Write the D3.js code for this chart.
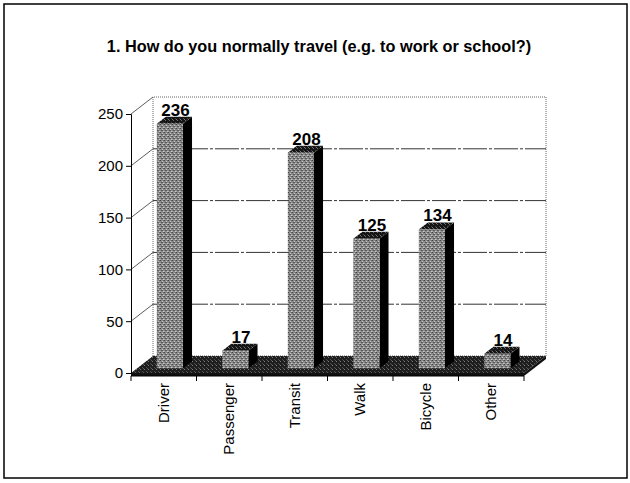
<!DOCTYPE html>
<html>
<head>
<meta charset="utf-8">
<script src="https://cdn.jsdelivr.net/npm/d3@7"></script>
<style>
  body { margin: 0; background: #fff; }
  text { font-family: Arial, "Liberation Sans", sans-serif; fill: #000; }
</style>
</head>
<body>
<div id="chart"></div>
<script>
// data
const categories = ["Driver", "Passenger", "Transit", "Walk", "Bicycle", "Other"];
const counts = [236, 17, 208, 125, 134, 14];
const yTicks = [0, 50, 100, 150, 200, 250];
const gridValues = [50, 100, 150, 200];
const title = "1. How do you normally travel (e.g. to work or school?)";

const width = 630, height = 483;
// front plane of the plot
const left = 131, right = 524, y0 = 373, yTop = 114;
// 3d depth offset of the whole plot (back wall)
const depthX = 22, depthY = -17;
// bars sit between these depth fractions
const f0 = 0.28, f1 = 0.69;

const svg = d3.select("#chart")
  .append("svg")
  .attr("width", width)
  .attr("height", height);

// textures for the scanned look
const defs = svg.append("defs");
function texture(id, base, dots) {
  const p = defs.append("pattern")
    .attr("id", id)
    .attr("patternUnits", "userSpaceOnUse")
    .attr("width", 4)
    .attr("height", 4);
  p.append("rect").attr("width", 4).attr("height", 4).attr("fill", base);
  dots.forEach(([x, y, c]) => p.append("rect").attr("x", x).attr("y", y).attr("width", 1).attr("height", 1).attr("fill", c));
}
texture("front", "#8a8a8a", [[0, 0, "#444"], [2, 1, "#c4c4c4"], [1, 2, "#555"], [3, 3, "#c8c8c8"], [3, 0, "#6a6a6a"], [0, 3, "#aaa"], [2, 2, "#5e5e5e"]]);
texture("dark", "#151515", [[1, 0, "#666"], [3, 2, "#444"], [0, 3, "#777"]]);
texture("floor", "#1e1e1e", [[0, 1, "#7a7a7a"], [2, 3, "#4a4a4a"], [3, 0, "#5a5a5a"]]);

// outer frame
svg.append("rect")
  .attr("x", 4).attr("y", 4)
  .attr("width", 623).attr("height", 474)
  .attr("fill", "none")
  .attr("stroke", "#000")
  .attr("stroke-width", 1.5);

// title
svg.append("text")
  .attr("x", 319)
  .attr("y", 52)
  .attr("text-anchor", "middle")
  .style("font-size", "16.3px")
  .style("font-weight", "bold")
  .text(title);

// scales
const xScale = d3.scaleBand().domain(categories).range([left, right]).padding(0);
const yScale = d3.scaleLinear().domain([0, 250]).range([y0, yTop]);

const pt = (x, y, f) => [x + depthX * f, y + depthY * f];
const poly = pts => "M" + pts.map(p => p.join(",")).join("L") + "Z";

// back wall border
svg.append("path")
  .attr("d", poly([pt(left, y0, 1), pt(left, yTop, 1), pt(right, yTop, 1), pt(right, y0, 1)]))
  .attr("fill", "none")
  .attr("stroke", "#666")
  .attr("stroke-dasharray", "1,1");

// gridlines on back wall
svg.selectAll(".grid")
  .data(gridValues)
  .enter()
  .append("line")
  .attr("class", "grid")
  .attr("x1", left + depthX)
  .attr("x2", right + depthX)
  .attr("y1", d => yScale(d) + depthY)
  .attr("y2", d => yScale(d) + depthY)
  .attr("stroke", "#333")
  .attr("stroke-dasharray", "24,2,3,2");

// side wall diagonals
svg.selectAll(".side")
  .data(yTicks.slice(1))
  .enter()
  .append("line")
  .attr("class", "side")
  .attr("x1", left)
  .attr("x2", left + depthX)
  .attr("y1", d => yScale(d))
  .attr("y2", d => yScale(d) + depthY)
  .attr("stroke", "#333")
  .attr("stroke-width", 0.8);

// floor
const slab = 3;
svg.append("path")
  .attr("d", poly([pt(left, y0, 0), pt(left, y0, 1), pt(right, y0, 1), pt(right, y0, 0)]))
  .attr("fill", "url(#floor)");
svg.append("path")
  .attr("d", poly([[left, y0], [right, y0], [right, y0 + slab], [left, y0 + slab]]))
  .attr("fill", "#111");
svg.append("path")
  .attr("d", poly([[right, y0], pt(right, y0, 1), [right + depthX, y0 + depthY + slab], [right, y0 + slab]]))
  .attr("fill", "#111");

// bars
const barW = xScale.bandwidth() * 0.4;
const bars = svg.selectAll(".bar")
  .data(categories.map((c, i) => ({ cat: c, val: counts[i] })))
  .enter()
  .append("g")
  .attr("class", "bar");

bars.each(function (d) {
  const g = d3.select(this);
  const x0 = xScale(d.cat) + (xScale.bandwidth() - barW) / 2;
  const x1 = x0 + barW;
  const yv = yScale(d.val);
  g.append("path")
    .attr("d", poly([pt(x1, yv, f0), pt(x1, yv, f1), pt(x1, y0, f1), pt(x1, y0, f0)]))
    .attr("fill", "#000");
  g.append("path")
    .attr("d", poly([pt(x0, yv, f0), pt(x0, yv, f1), pt(x1, yv, f1), pt(x1, yv, f0)]))
    .attr("fill", "url(#dark)");
  g.append("path")
    .attr("d", poly([pt(x0, yv, f0), pt(x1, yv, f0), pt(x1, y0, f0), pt(x0, y0, f0)]))
    .attr("fill", "url(#front)");
  // value label
  const lp = pt(x0 + barW / 2, yv, (f0 + f1) / 2);
  g.append("text")
    .attr("x", lp[0] + 1)
    .attr("y", yScale(d.val) + depthY * f1 - 1)
    .attr("text-anchor", "middle")
    .style("font-size", "17px")
    .style("font-weight", "bold")
    .text(d.val);
});

// y axis
const yAxis = svg.append("g")
  .attr("transform", `translate(${left},0)`)
  .call(d3.axisLeft(yScale).tickValues(yTicks).tickSize(5).tickPadding(3));
yAxis.select(".domain").attr("stroke", "#000");
yAxis.selectAll("text").style("font-size", "15px").attr("font-family", null);

// x axis along the front edge of the floor
const xAxisY = y0 + slab;
svg.append("line")
  .attr("x1", left).attr("x2", right)
  .attr("y1", xAxisY).attr("y2", xAxisY)
  .attr("stroke", "#000");
svg.selectAll(".xtick")
  .data(categories.map(c => xScale(c)).concat([right]))
  .enter()
  .append("line")
  .attr("class", "xtick")
  .attr("x1", d => d).attr("x2", d => d)
  .attr("y1", xAxisY).attr("y2", xAxisY + 5)
  .attr("stroke", "#000");
svg.selectAll(".xlabel")
  .data(categories)
  .enter()
  .append("text")
  .attr("class", "xlabel")
  .attr("transform", d => `translate(${xScale(d) + xScale.bandwidth() / 2 + 5},${xAxisY + 7}) rotate(-90)`)
  .attr("text-anchor", "end")
  .style("font-size", "15px")
  .text(d => d);
</script>
</body>
</html>
